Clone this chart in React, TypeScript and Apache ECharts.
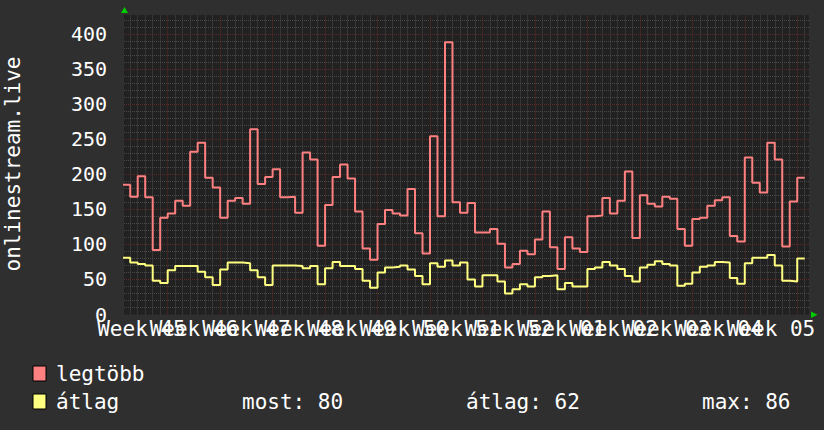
import React, { useEffect, useRef } from 'react';
import * as echarts from 'echarts';

// Daily series, first value belongs to day index FIRST_DAY
const FIRST_DAY = 1;
const maxValues = [
  185, 168, 197, 167, 92, 138, 144, 162, 155, 232,
  245, 195, 181, 138, 162, 166, 158, 264, 186, 196,
  207, 167, 168, 145, 231, 221, 98, 156, 196, 214,
  194, 147, 94, 78, 129, 149, 144, 141, 179, 116,
  87, 254, 140, 388, 160, 145, 159, 117, 117, 122,
  101, 67, 72, 91, 86, 107, 147, 96, 65, 110,
  94, 89, 140, 141, 166, 144, 162, 204, 109, 170,
  158, 154, 168, 165, 122, 98, 136, 138, 155, 163,
  167, 112, 104, 224, 188, 174, 245, 221, 97, 161, 195,
];
const avgValues = [
  81, 74, 72, 70, 48, 45, 63, 69, 69, 69,
  61, 53, 42, 64, 74, 74, 73, 63, 53, 42,
  70, 70, 70, 69, 66, 69, 43, 66, 75, 69,
  69, 65, 48, 38, 60, 67, 68, 70, 64, 55,
  43, 73, 68, 77, 70, 74, 50, 40, 56, 56,
  47, 30, 36, 43, 40, 53, 55, 56, 36, 45,
  40, 40, 65, 67, 75, 70, 65, 55, 47, 67,
  71, 76, 72, 70, 41, 44, 60, 68, 70, 75,
  74, 52, 44, 73, 81, 81, 85, 70, 48, 47, 80,
];
const weekLabels = [
  'Week 45', 'Week 46', 'Week 47', 'Week 48', 'Week 49', 'Week 50', 'Week 51',
  'Week 52', 'Week 01', 'Week 02', 'Week 03', 'Week 04', 'Week 05',
];
const yTickValues = [0, 50, 100, 150, 200, 250, 300, 350, 400];
const seriesNames = ['legtöbb', 'átlag'];
const statLabels = ['most: 80', 'átlag: 62', 'max: 86'];
const yTitle = 'onlinestream.live';

const X_MIN = 1.17;
const X_MAX = 92.57;
const Y_MAX = 427;

const MONO = "'DejaVu Sans Mono', monospace";
const RED = '#ff8080';
const YELLOW = '#ffff80';

function toPoints(vals: number[]) {
  const pts = vals.map((v, i) => [FIRST_DAY + i, v]);
  pts.push([FIRST_DAY + vals.length, vals[vals.length - 1]]);
  return pts;
}

export default function App() {
  const ref = useRef<HTMLDivElement>(null);
  useEffect(() => {
    if (!ref.current) return;
    const chart = echarts.init(ref.current, null, { renderer: 'svg' });
    const weekLines = weekLabels.map((_, i) => 7 * (i + 1));
    const labelPos = weekLabels.map((_, i) => 3.5 + 7 * i);
    const dayLines: number[] = [];
    for (let d = Math.ceil(X_MIN); d <= X_MAX; d++) if (d % 7 !== 0) dayLines.push(d);
    const yMinor: number[] = [];
    for (let v = 10; v < Y_MAX; v += 10) if (v % 50 !== 0) yMinor.push(v);
    const majorY = yTickValues.filter((v) => v > 0);

    const gridLineSeries = (name: string, xs: number[], ys: number[], color: string, z: number) => ({
      name, type: 'line', data: [], z, silent: true, symbol: 'none',
      markLine: {
        silent: true, symbol: 'none', animation: false,
        label: { show: false },
        lineStyle: { color, width: 1, type: [1, 1] },
        emphasis: { disabled: true },
        data: [...xs.map((x) => ({ xAxis: x })), ...ys.map((y) => ({ yAxis: y }))],
      },
    });

    chart.setOption({
      animation: false,
      backgroundColor: '#2f2f2f',
      grid: {
        left: 124, right: 15, top: 15, bottom: 115.5,
        show: true, backgroundColor: '#212121', borderWidth: 0,
      },
      xAxis: {
        type: 'value', min: X_MIN, max: X_MAX,
        axisLine: { show: false },
        axisTick: { show: false },
        axisLabel: { show: false },
        splitLine: { show: false },
      },
      yAxis: {
        type: 'value', min: 0, max: Y_MAX,
        axisLine: { show: false },
        axisTick: { show: false },
        axisLabel: {
          customValues: yTickValues, color: '#ffffff', fontFamily: MONO, fontSize: 20, margin: 17,
        },
        splitLine: { show: false },
      },
      series: [
        gridLineSeries('minorGrid', dayLines, yMinor, '#4a4a4a', 1),
        gridLineSeries('majorGrid', weekLines, majorY, '#5e2929', 2),
        {
          name: seriesNames[0], type: 'line', step: 'end',
          data: toPoints(maxValues), showSymbol: false, symbol: 'none', z: 5,
          lineStyle: { color: RED, width: 2 }, itemStyle: { color: RED },
        },
        {
          name: seriesNames[1], type: 'line', step: 'end',
          data: toPoints(avgValues), showSymbol: false, symbol: 'none', z: 6,
          lineStyle: { color: YELLOW, width: 2 }, itemStyle: { color: YELLOW },
        },
      ],
    });

    const yBase = chart.convertToPixel({ yAxisIndex: 0 }, 0) as number;
    const weekTexts = weekLabels.map((t, i) => ({
      type: 'text',
      x: chart.convertToPixel({ xAxisIndex: 0 }, labelPos[i]) as number,
      y: yBase + 4,
      style: { text: t, fill: '#ffffff', font: `21px ${MONO}`, align: 'center', verticalAlign: 'top' },
    }));

    chart.setOption({
      graphic: [
        {
          type: 'text', x: 13, y: 164, rotation: Math.PI / 2,
          style: { text: yTitle, fill: '#ffffff', font: `21px ${MONO}`, align: 'center', verticalAlign: 'middle' },
        },
        { type: 'polygon', shape: { points: [[124.5, 7], [121, 13], [128, 13]] }, style: { fill: '#00cc00' } },
        { type: 'polygon', shape: { points: [[811, 311.5], [811, 318], [817.5, 314.75]] }, style: { fill: '#00cc00' } },
        { type: 'rect', shape: { x: 33, y: 366, width: 13, height: 15 }, style: { fill: RED, stroke: '#000', lineWidth: 1 } },
        { type: 'rect', shape: { x: 33, y: 394, width: 13, height: 15 }, style: { fill: YELLOW, stroke: '#000', lineWidth: 1 } },
        { type: 'text', x: 56, y: 374, style: { text: seriesNames[0], fill: '#fff', font: `21px ${MONO}`, verticalAlign: 'middle' } },
        { type: 'text', x: 56, y: 402, style: { text: seriesNames[1], fill: '#fff', font: `21px ${MONO}`, verticalAlign: 'middle' } },
        { type: 'text', x: 242, y: 402, style: { text: statLabels[0], fill: '#fff', font: `21px ${MONO}`, verticalAlign: 'middle' } },
        { type: 'text', x: 466, y: 402, style: { text: statLabels[1], fill: '#fff', font: `21px ${MONO}`, verticalAlign: 'middle' } },
        { type: 'text', x: 702, y: 402, style: { text: statLabels[2], fill: '#fff', font: `21px ${MONO}`, verticalAlign: 'middle' } },
        ...weekTexts,
      ],
    });
    return () => chart.dispose();
  }, []);
  return <div ref={ref} style={{ position: 'fixed', left: 0, top: 0, width: 824, height: 430 }} />;
}
